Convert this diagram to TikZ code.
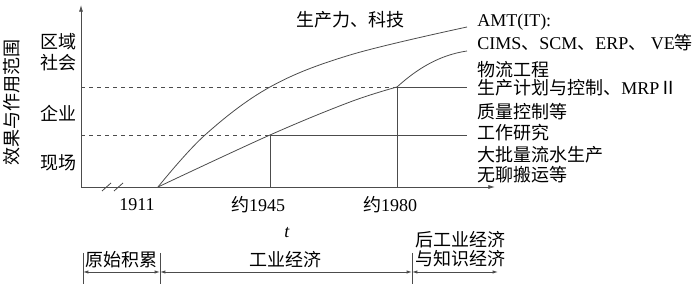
\documentclass[tikz,border=0pt]{standalone}
\usepackage{fontspec}
\setmainfont{Liberation Serif}
\newfontfamily\cjk{Noto Sans CJK SC}
\usetikzlibrary{arrows.meta}
\tikzset{
  axis/.style={draw=black!70, line width=0.6pt},
  guide/.style={draw=black!70, dashed, line width=0.6pt},
  lbl/.style={font=\fontsize{13.5}{16}\selectfont, inner sep=0pt},
  rlbl/.style={lbl, anchor=west},
  span/.style={draw=black!70, line width=0.6pt, {Latex[length=4pt,width=2.5pt]}-{Latex[length=4pt,width=2.5pt]}},
}
\begin{document}
\begin{tikzpicture}[x=0.75pt,y=-0.75pt]
\useasboundingbox (0,0) rectangle (700,284);
\coordinate (o) at (81,187);
\coordinate (ytop) at (81,5);
\coordinate (xend) at (495,187);
\coordinate (s) at (158,187);
\coordinate (l1) at (397,87);
\coordinate (l2) at (270,135);
\coordinate (e1) at (467,87);
\coordinate (e2) at (467,135);
\coordinate (d1) at (81,87);
\coordinate (d2) at (81,135);
\coordinate (t45) at (270,187);
\coordinate (t80) at (397,187);
\draw[axis, -{Latex[length=5pt,width=3pt]}] (o) -- (ytop);
\draw[axis, -{Latex[length=5pt,width=3pt]}] (o) -- (xend);
\draw[axis] (102,191) -- (111,183);
\draw[axis] (114,191) -- (123,183);
\draw[axis] plot[smooth, tension=0.6] coordinates {(158,187) (205,135) (270,87) (350,55) (467,27)};
\draw[axis] plot[smooth, tension=0.6] coordinates {(158,187) (270,135) (350,102) (397,87)}
  .. controls (418,68) and (440,55) .. (467,51);
\draw[guide] (d1) -- (l1);
\draw[axis] (l1) -- (e1);
\draw[guide] (d2) -- (l2);
\draw[axis] (l2) -- (e2);
\draw[axis] (l2) -- (t45);
\draw[axis] (l1) -- (t80);
\node[lbl, rotate=90] (ylab) at (12,103) {\cjk 效果与作用范围};
\node[lbl] (quyu) at (58,42) {\cjk 区域};
\node[lbl] (shehui) at (58,63) {\cjk 社会};
\node[lbl] (qiye) at (58,113) {\cjk 企业};
\node[lbl] (xianchang) at (58,163) {\cjk 现场};
\node[lbl] (tech) at (350,20) {\cjk 生产力、科技};
\node[rlbl] (amt) at (477,22) {AMT(IT):};
\node[rlbl] (cims) at (477,43) {CIMS{\cjk 、}SCM{\cjk 、}ERP{\cjk 、} VE{\cjk 等}};
\node[rlbl] (wuliu) at (477,70) {\cjk 物流工程};
\node[rlbl] (mrp) at (477,88) {{\cjk 生产计划与控制、}MRP{\cjk Ⅱ}};
\node[rlbl] (zhiliang) at (477,112) {\cjk 质量控制等};
\node[rlbl] (gongzuo) at (477,133) {\cjk 工作研究};
\node[rlbl] (dapiliang) at (477,155) {\cjk 大批量流水生产};
\node[rlbl] (banyun) at (477,175) {\cjk 无聊搬运等};
\node[lbl] (y1911) at (137,205) {1911};
\node[lbl] (y1945) at (258,205) {{\cjk 约}1945};
\node[lbl] (y1980) at (390,205) {{\cjk 约}1980};
\node[lbl] (tlab) at (287,233) {\textit{t}};
\coordinate (b0) at (83,272);
\coordinate (b1) at (160,272);
\coordinate (b2) at (412,272);
\coordinate (b3) at (498,272);
\foreach \x in {83,160,412}
  \draw[axis] (\x,253) -- (\x,284);
\draw[span] (b0) -- (b1);
\draw[span] (b1) -- (b2);
\draw[span] (b2) -- (b3);
\node[lbl] (yuanshi) at (121,260) {\cjk 原始积累};
\node[lbl] (gongye) at (285,260) {\cjk 工业经济};
\node[lbl] (hougongye) at (460,240) {\cjk 后工业经济};
\node[lbl] (zhishi) at (460,259) {\cjk 与知识经济};
\end{tikzpicture}
\end{document}
